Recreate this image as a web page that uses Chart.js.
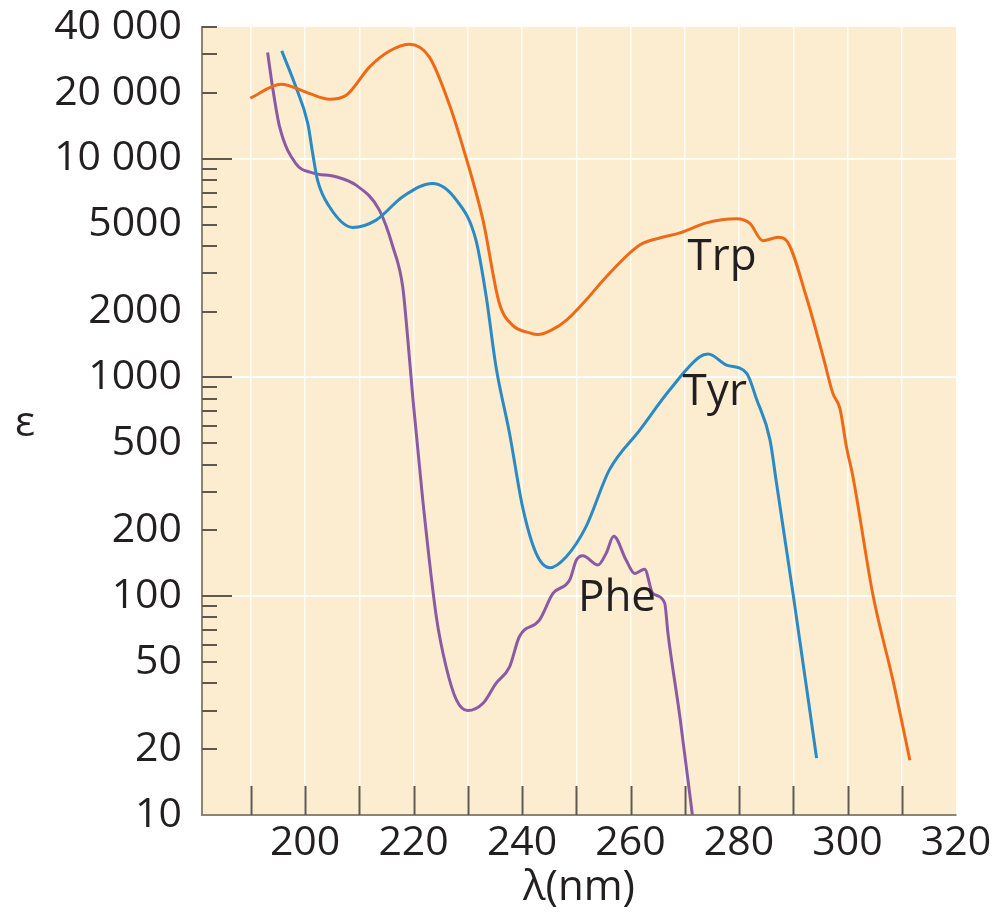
<!DOCTYPE html>
<html>
<head>
    <meta charset="UTF-8">
    <title>Absorption spectra Trp Tyr Phe</title>
    <script src="https://cdn.jsdelivr.net/npm/chart.js"></script>
    <style>
        html, body { margin: 0; padding: 0; background: #ffffff; }
        #wrap { width: 994px; height: 913px; }
    </style>
</head>
<body>
    <div id="wrap"><canvas id="absChart" width="994" height="913"></canvas></div>
    <script>
        // wavelength (nm) and epsilon
        var trpX = [189.9, 195.6, 200.5, 204.5, 207.6, 211.9, 215.5, 219.2, 222.9, 226.6, 229.1, 232.8, 235.8, 238.3, 241.4, 242.9, 245.5, 248.2, 251.8, 255.5, 261.7, 265.5, 269.1, 274.0, 279.5, 282.0, 284.4, 287.2, 288.7, 292.4, 295.5, 297.3, 298.6, 299.8, 301.0, 304.7, 308.4, 311.5];
        var trpY = [18900, 21900, 20000, 18700, 19500, 26300, 31000, 33400, 29200, 17700, 11300, 5240, 2190, 1730, 1600, 1570, 1650, 1830, 2260, 2880, 4030, 4350, 4580, 5090, 5310, 5060, 4220, 4370, 4240, 2340, 1245, 846, 722, 482, 352, 101, 41, 17.8];

        var tyrX = [195.7, 198.3, 200.5, 201.4, 202.3, 204.5, 208.8, 213.1, 218.0, 223.5, 227.9, 231.5, 233.4, 235.2, 237.7, 240.1, 242.6, 245.1, 248.2, 251.8, 256.1, 261.7, 267.2, 272.7, 274.3, 277.7, 281.4, 283.2, 285.7, 286.9, 290.0, 294.3];
        var tyrY = [31100, 21300, 14500, 10600, 7980, 6030, 4850, 5240, 6700, 7710, 6470, 4250, 2340, 1120, 555, 256, 157, 135, 152, 208, 378, 575, 876, 1240, 1280, 1140, 1045, 800, 520, 330, 101, 18.2];

        var pheX = [193.1, 194.0, 195.3, 198.3, 201.4, 205.7, 209.4, 213.7, 216.2, 218.0, 218.9, 219.9, 221.7, 224.2, 226.0, 227.9, 230.0, 232.8, 235.2, 237.7, 239.5, 243.2, 245.7, 248.8, 250.0, 251.2, 254.0, 255.5, 256.9, 259.2, 260.8, 262.6, 264.1, 266.3, 266.9, 269.1, 271.4];
        var pheY = [30600, 21300, 14000, 9500, 8620, 8270, 7570, 5820, 3950, 2600, 1536, 789, 275, 80.5, 47.6, 33.6, 30.0, 32.4, 40.0, 47.6, 65.3, 77.8, 103, 119, 146, 153, 139, 157, 188, 146, 127, 133, 103, 92.9, 67.6, 28.1, 10];

        var seriesNames = ['Trp', 'Tyr', 'Phe'];
        var seriesColors = ['#ef6a17', '#2a8ac6', '#8a5aa4'];
        // label anchor (nm, epsilon) for the curve names
        var labelX = [270.5, 269.6, 250.3];
        var labelY = [3100, 748, 86];

        var xTickValues = [190, 200, 210, 220, 230, 240, 250, 260, 270, 280, 290, 300, 310, 320];
        var xLabelValues = [200, 220, 240, 260, 280, 300, 320];
        var yTickValues = [10, 20, 30, 40, 50, 60, 70, 80, 90,
                           100, 200, 300, 400, 500, 600, 700, 800, 900,
                           1000, 2000, 3000, 4000, 5000, 6000, 7000, 8000, 9000,
                           10000, 20000, 30000, 40000];
        var yLabelValues = [10, 20, 50, 100, 200, 500, 1000, 2000, 5000, 10000, 20000, 40000];
        var yMajorValues = [100, 1000, 10000];

        function toPoints(xs, ys) {
            return xs.map(function (x, i) { return { x: x, y: ys[i] }; });
        }
        function fmt(v) {
            return v >= 10000 ? String(v).replace(/(\d+)(\d{3})$/, '$1 $2') : String(v);
        }

        var FONT = '"Open Sans", "Liberation Sans", sans-serif';
        var TEXT = '#231f20';
        var TICK = '#5f584f';

        var paperPlugin = {
            id: 'paper',
            beforeDraw: function (chart) {
                var a = chart.chartArea, c = chart.ctx;
                c.save();
                c.fillStyle = '#fcecd0';
                c.fillRect(a.left, a.top, a.right - a.left, a.bottom - a.top);
                c.restore();
            },
            beforeDatasetsDraw: function (chart) {
                var c = chart.ctx, a = chart.chartArea;
                var xs = chart.scales.x, ys = chart.scales.y;
                c.save();
                c.strokeStyle = TICK;
                c.lineWidth = 2;
                xTickValues.forEach(function (v) {
                    if (v >= 320) return;
                    var px = Math.round(xs.getPixelForValue(v)) + 0.5;
                    c.beginPath(); c.moveTo(px, a.bottom); c.lineTo(px, a.bottom - 29); c.stroke();
                });
                yTickValues.forEach(function (v) {
                    if (v <= 10) return;
                    var py = Math.round(ys.getPixelForValue(v));
                    var len = yMajorValues.indexOf(v) >= 0 ? 30 : 15;
                    c.beginPath(); c.moveTo(a.left, py); c.lineTo(a.left + len, py); c.stroke();
                });
                c.restore();
            },
            afterDraw: function (chart) {
                var c = chart.ctx;
                var xs = chart.scales.x, ys = chart.scales.y;
                c.save();
                c.fillStyle = TEXT;
                c.font = '44px ' + FONT;
                c.textAlign = 'left';
                c.textBaseline = 'alphabetic';
                seriesNames.forEach(function (n, i) {
                    c.fillText(n, xs.getPixelForValue(labelX[i]), ys.getPixelForValue(labelY[i]));
                });
                c.font = '42px ' + FONT;
                c.textAlign = 'center';
                c.textBaseline = 'middle';
                c.fillText('\u03b5', 25, 424);
                c.restore();
            }
        };

        function noEdgePadding(scale) {
            scale.paddingTop = 0;
            scale.paddingBottom = 0;
            scale.paddingLeft = 0;
            scale.paddingRight = 0;
        }

        var ctx = document.getElementById('absChart').getContext('2d');
        var absChart = new Chart(ctx, {
            type: 'line',
            data: {
                datasets: [
                    { label: 'Trp', data: toPoints(trpX, trpY) },
                    { label: 'Tyr', data: toPoints(tyrX, tyrY) },
                    { label: 'Phe', data: toPoints(pheX, pheY) }
                ].map(function (d, i) {
                    d.borderColor = seriesColors[i];
                    d.borderWidth = 3;
                    d.pointRadius = 0;
                    d.fill = false;
                    d.cubicInterpolationMode = 'monotone';
                    return d;
                })
            },
            options: {
                responsive: false,
                animation: false,
                layout: { padding: { left: 0, top: 27, right: 38, bottom: 0 } },
                plugins: { legend: { display: false }, tooltip: { enabled: false } },
                scales: {
                    x: {
                        type: 'linear',
                        min: 181,
                        max: 320,
                        afterBuildTicks: function (scale) {
                            scale.ticks = xTickValues.map(function (v) { return { value: v }; });
                        },
                        afterFit: function (scale) { scale.height = 98; noEdgePadding(scale); },
                        grid: {
                            drawTicks: false,
                            lineWidth: 1.5,
                            color: function (c) {
                                return c.tick && c.tick.value < 320 ? 'rgba(255,255,255,0.85)' : 'rgba(0,0,0,0)';
                            }
                        },
                        border: { display: true, color: '#8d8475', width: 2 },
                        ticks: {
                            autoSkip: false,
                            maxRotation: 0,
                            padding: 4,
                            color: TEXT,
                            font: { family: FONT, size: 41 },
                            callback: function (v) { return xLabelValues.indexOf(v) >= 0 ? String(v) : ''; }
                        },
                        title: {
                            display: true,
                            text: '\u03bb(nm)',
                            color: TEXT,
                            padding: 0,
                            font: { family: FONT, size: 42 }
                        }
                    },
                    y: {
                        type: 'logarithmic',
                        min: 10,
                        max: 40000,
                        afterBuildTicks: function (scale) {
                            scale.ticks = yTickValues.map(function (v) { return { value: v }; });
                        },
                        afterFit: function (scale) { scale.width = 202; noEdgePadding(scale); },
                        grid: {
                            drawTicks: false,
                            lineWidth: 2,
                            color: function (c) {
                                return c.tick && yMajorValues.indexOf(c.tick.value) >= 0 ? 'rgba(255,255,255,0.9)' : 'rgba(0,0,0,0)';
                            }
                        },
                        border: { display: true, color: '#8d8475', width: 2 },
                        ticks: {
                            autoSkip: false,
                            padding: 20,
                            color: TEXT,
                            font: { family: FONT, size: 41 },
                            callback: function (v) { return yLabelValues.indexOf(v) >= 0 ? fmt(v) : ''; }
                        }
                    }
                }
            },
            plugins: [paperPlugin]
        });
    </script>
</body>
</html>
